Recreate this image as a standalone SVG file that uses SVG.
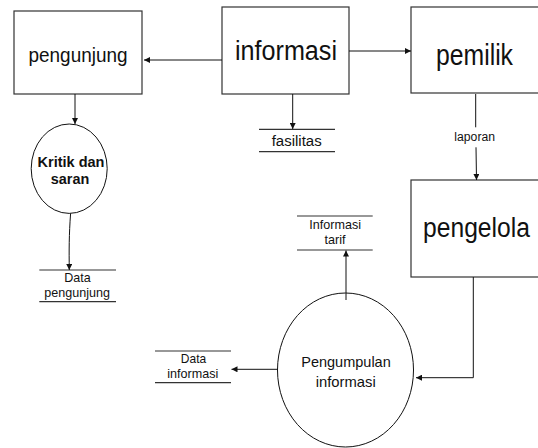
<svg xmlns="http://www.w3.org/2000/svg" width="538" height="448" viewBox="0 0 538 448">
<style>
.box{fill:#fff;stroke:#333;stroke-width:1.2}
.proc{fill:#fff;stroke:#111;stroke-width:1}
.store{stroke:#333;stroke-width:1.2}
.conn{fill:none;stroke:#111;stroke-width:1}
text{font-family:"Liberation Sans",Arial,sans-serif;fill:#111;text-anchor:middle}
.big{font-size:27px}
.mid{font-size:20px}
.sm{font-size:13.5px}
.bold{font-size:15px;font-weight:bold}
.pt{font-size:15px}
</style>
<defs>
<marker id="ah" markerUnits="userSpaceOnUse" markerWidth="7" markerHeight="6" refX="6" refY="3" orient="auto">
<path d="M0,0 L6,3 L0,6 z" fill="#111"/>
</marker>
</defs>
<rect width="538" height="448" fill="#fff"/>
<g id="pengunjung">
<rect class="box" x="14" y="11" width="128" height="83"/>
<text class="mid" x="78" y="62" textLength="99" lengthAdjust="spacingAndGlyphs">pengunjung</text>
</g>
<g id="informasi">
<rect class="box" x="222" y="7" width="127" height="87"/>
<text class="big" x="286" y="60" textLength="102" lengthAdjust="spacingAndGlyphs">informasi</text>
</g>
<g id="pemilik">
<rect class="box" x="411" y="7" width="140" height="86"/>
<text class="big" x="474.5" y="65" textLength="77" lengthAdjust="spacingAndGlyphs" style="font-size:29px">pemilik</text>
</g>
<g id="pengelola">
<rect class="box" x="411" y="180" width="140" height="97"/>
<text class="big" x="476.5" y="237" textLength="107" lengthAdjust="spacingAndGlyphs">pengelola</text>
</g>
<g id="kritik">
<ellipse class="proc" cx="69.2" cy="168.7" rx="38" ry="44.7"/>
<text class="bold" x="71" y="166.5" textLength="67" lengthAdjust="spacingAndGlyphs">Kritik dan</text>
<text class="bold" x="70" y="184" textLength="38.5" lengthAdjust="spacingAndGlyphs">saran</text>
</g>
<g id="pengumpulan">
<ellipse class="proc" cx="345.5" cy="370" rx="68" ry="77"/>
<text class="pt" x="346" y="366.5" textLength="89.5" lengthAdjust="spacingAndGlyphs">Pengumpulan</text>
<text class="pt" x="345.7" y="386.5" textLength="60" lengthAdjust="spacingAndGlyphs">informasi</text>
</g>
<g id="fasilitas">
<line class="store" x1="259" y1="129.3" x2="335" y2="129.3"/>
<line class="store" x1="259" y1="151.7" x2="335" y2="151.7"/>
<text class="sm" x="296.7" y="146" textLength="50" lengthAdjust="spacingAndGlyphs" style="font-size:15.5px">fasilitas</text>
</g>
<g id="data-pengunjung">
<line class="store" x1="39.3" y1="270" x2="116" y2="270"/>
<line class="store" x1="39.3" y1="301.7" x2="116" y2="301.7"/>
<text class="sm" x="77.5" y="281.7" textLength="26.4" lengthAdjust="spacingAndGlyphs">Data</text>
<text class="sm" x="77.2" y="297" textLength="65.7" lengthAdjust="spacingAndGlyphs">pengunjung</text>
</g>
<g id="informasi-tarif">
<line class="store" x1="297" y1="216" x2="372.7" y2="216"/>
<line class="store" x1="297" y1="250" x2="372.7" y2="250"/>
<text class="sm" x="335.2" y="229" textLength="51.7" lengthAdjust="spacingAndGlyphs">Informasi</text>
<text class="sm" x="335" y="244.3" textLength="21" lengthAdjust="spacingAndGlyphs">tarif</text>
</g>
<g id="data-informasi">
<line class="store" x1="155" y1="351" x2="231" y2="351"/>
<line class="store" x1="155" y1="382.7" x2="231" y2="382.7"/>
<text class="sm" x="193.5" y="362.7" textLength="25.3" lengthAdjust="spacingAndGlyphs">Data</text>
<text class="sm" x="192.8" y="378.3" textLength="51" lengthAdjust="spacingAndGlyphs">informasi</text>
</g>
<g id="connectors">
<path class="conn" d="M222,60 L144,60" marker-end="url(#ah)"/>
<path class="conn" d="M349,51 L411,51" marker-end="url(#ah)"/>
<path class="conn" d="M75,94 L75,124" marker-end="url(#ah)"/>
<path class="conn" d="M292.7,94 L292.7,129" marker-end="url(#ah)"/>
<path class="conn" d="M475.7,94 L475.7,127.3"/>
<path class="conn" d="M476,147.3 L476.5,180" marker-end="url(#ah)"/>
<text class="sm" x="474.7" y="140.7" textLength="40.7" lengthAdjust="spacingAndGlyphs" style="font-size:12.5px">laporan</text>
<path class="conn" d="M70.6,213.4 C69,235 69,250 69.3,270" marker-end="url(#ah)"/>
<path class="conn" d="M346,300 L346,250.5" marker-end="url(#ah)"/>
<path class="conn" d="M473.3,277 L473.3,377.7 L416,377.7" marker-end="url(#ah)"/>
<path class="conn" d="M278,369.3 L231.5,369.3" marker-end="url(#ah)"/>
</g>
</svg>
